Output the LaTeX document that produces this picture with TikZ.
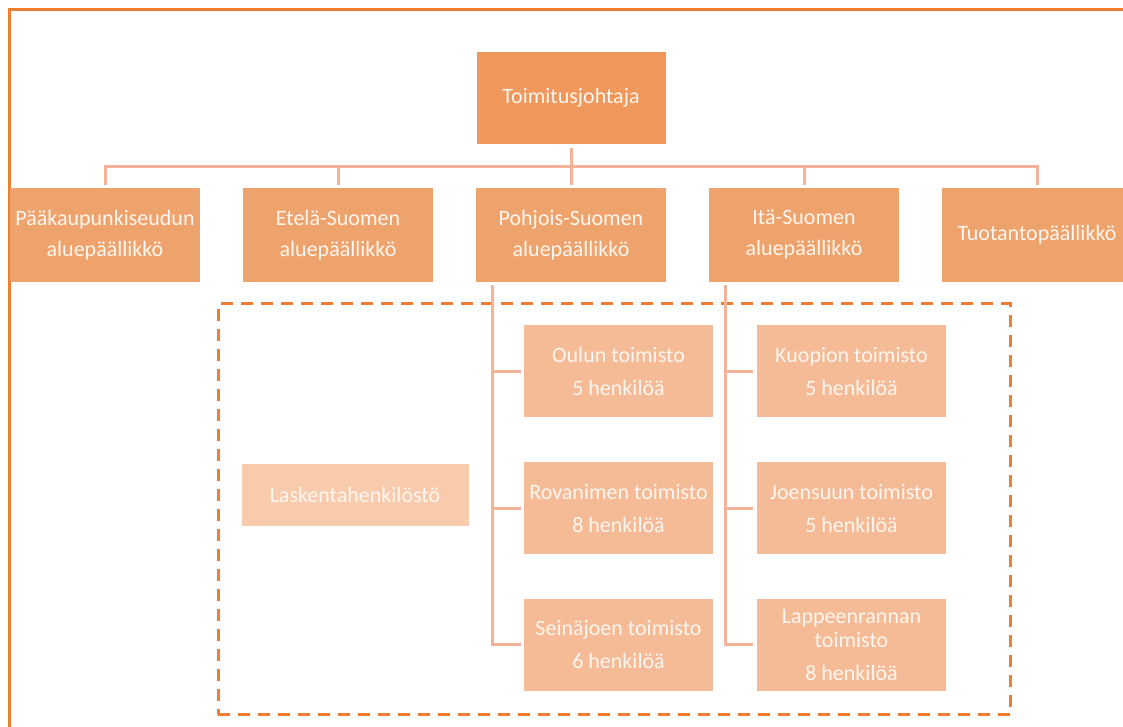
\documentclass[tikz,border=0pt]{standalone}
\usepackage{fontspec}
\setmainfont{Carlito}
\definecolor{ceofill}{HTML}{F0985C}
\definecolor{mgrfill}{HTML}{EFA36C}
\definecolor{officefill}{HTML}{F4BB96}
\definecolor{stafffill}{HTML}{F8CBAD}
\definecolor{boxtext}{HTML}{FFF6F0}
\definecolor{connline}{HTML}{F4B398}
\definecolor{frameline}{HTML}{ED7D31}
\begin{document}
\begin{tikzpicture}[x=1pt, y=1pt, node distance=233pt]
    \tikzstyle{box} = [rectangle, inner sep=0pt, align=center, text=boxtext,
    font=\fontsize{22}{24}\selectfont]
    \tikzstyle{chief} = [box, fill=ceofill, minimum width=189pt, minimum height=92pt]
    \tikzstyle{manager} = [box, fill=mgrfill, minimum width=190pt, minimum height=94pt]
    \tikzstyle{office} = [box, fill=officefill, minimum width=189pt, minimum height=92pt]
    \tikzstyle{staff} = [box, fill=stafffill, minimum width=227pt, minimum height=62pt]
    \tikzstyle{conn} = [draw=connline, line width=3pt]
    \tikzstyle{group} = [draw=frameline, dash pattern=on 12pt off 8pt, line width=3pt]
    \useasboundingbox (0,0) rectangle (1123,727);
    % outer frame
    \draw[frameline, line width=3pt] (9,-20) -- (9,717) -- (1140,717);
    % dashed area
    \node[group, minimum width=792pt, minimum height=411pt] (toimistot) at (614,217.5) {};
    \node[chief] (ceo) at (571,629) {Toimitusjohtaja};
    \node[manager, below of=ceo, node distance=137pt] (pohjois) {Pohjois-Suomen\\[7pt]aluepäällikkö};
    \node[manager, left of=pohjois] (etela) {Etelä-Suomen\\[7pt]aluepäällikkö};
    \node[manager, left of=etela] (pk) {Pääkaupunkiseudun\\[7pt]aluepäällikkö};
    \node[manager, right of=pohjois] (ita) {Itä-Suomen\\[7pt]aluepäällikkö};
    \node[manager, right of=ita] (tuotanto) {Tuotantopäällikkö};
    \node[office] (oulu) at (618.5,355.5) {Oulun toimisto\\[9pt]5 henkilöä};
    \node[office, below of=oulu, node distance=137pt] (rovaniemi) {Rovanimen toimisto\\[9pt]8 henkilöä};
    \node[office, below of=rovaniemi, node distance=136.5pt] (seinajoki) {Seinäjoen toimisto\\[9pt]6 henkilöä};
    \node[office, right of=oulu] (kuopio) {Kuopion toimisto\\[9pt]5 henkilöä};
    \node[office, right of=rovaniemi] (joensuu) {Joensuun toimisto\\[9pt]5 henkilöä};
    \node[office, right of=seinajoki] (lappeenranta) {Lappeenrannan\\toimisto\\[9pt]8 henkilöä};
    \node[staff] (laskenta) at (355,232) {Laskentahenkilöstö};
    \foreach \m in {pk, etela, pohjois, ita, tuotanto}
        \draw[conn, shorten <=4pt, shorten >=3pt] (ceo.south) -- ++(0,-22) -| (\m.north);
    \foreach \o in {oulu, rovaniemi, seinajoki}
        \draw[conn, shorten <=3pt, shorten >=3pt] ([xshift=17pt]pohjois.south west) |- (\o.west);
    \foreach \o in {kuopio, joensuu, lappeenranta}
        \draw[conn, shorten <=3pt, shorten >=4pt] ([xshift=17pt]ita.south west) |- (\o.west);
\end{tikzpicture}
\end{document}
